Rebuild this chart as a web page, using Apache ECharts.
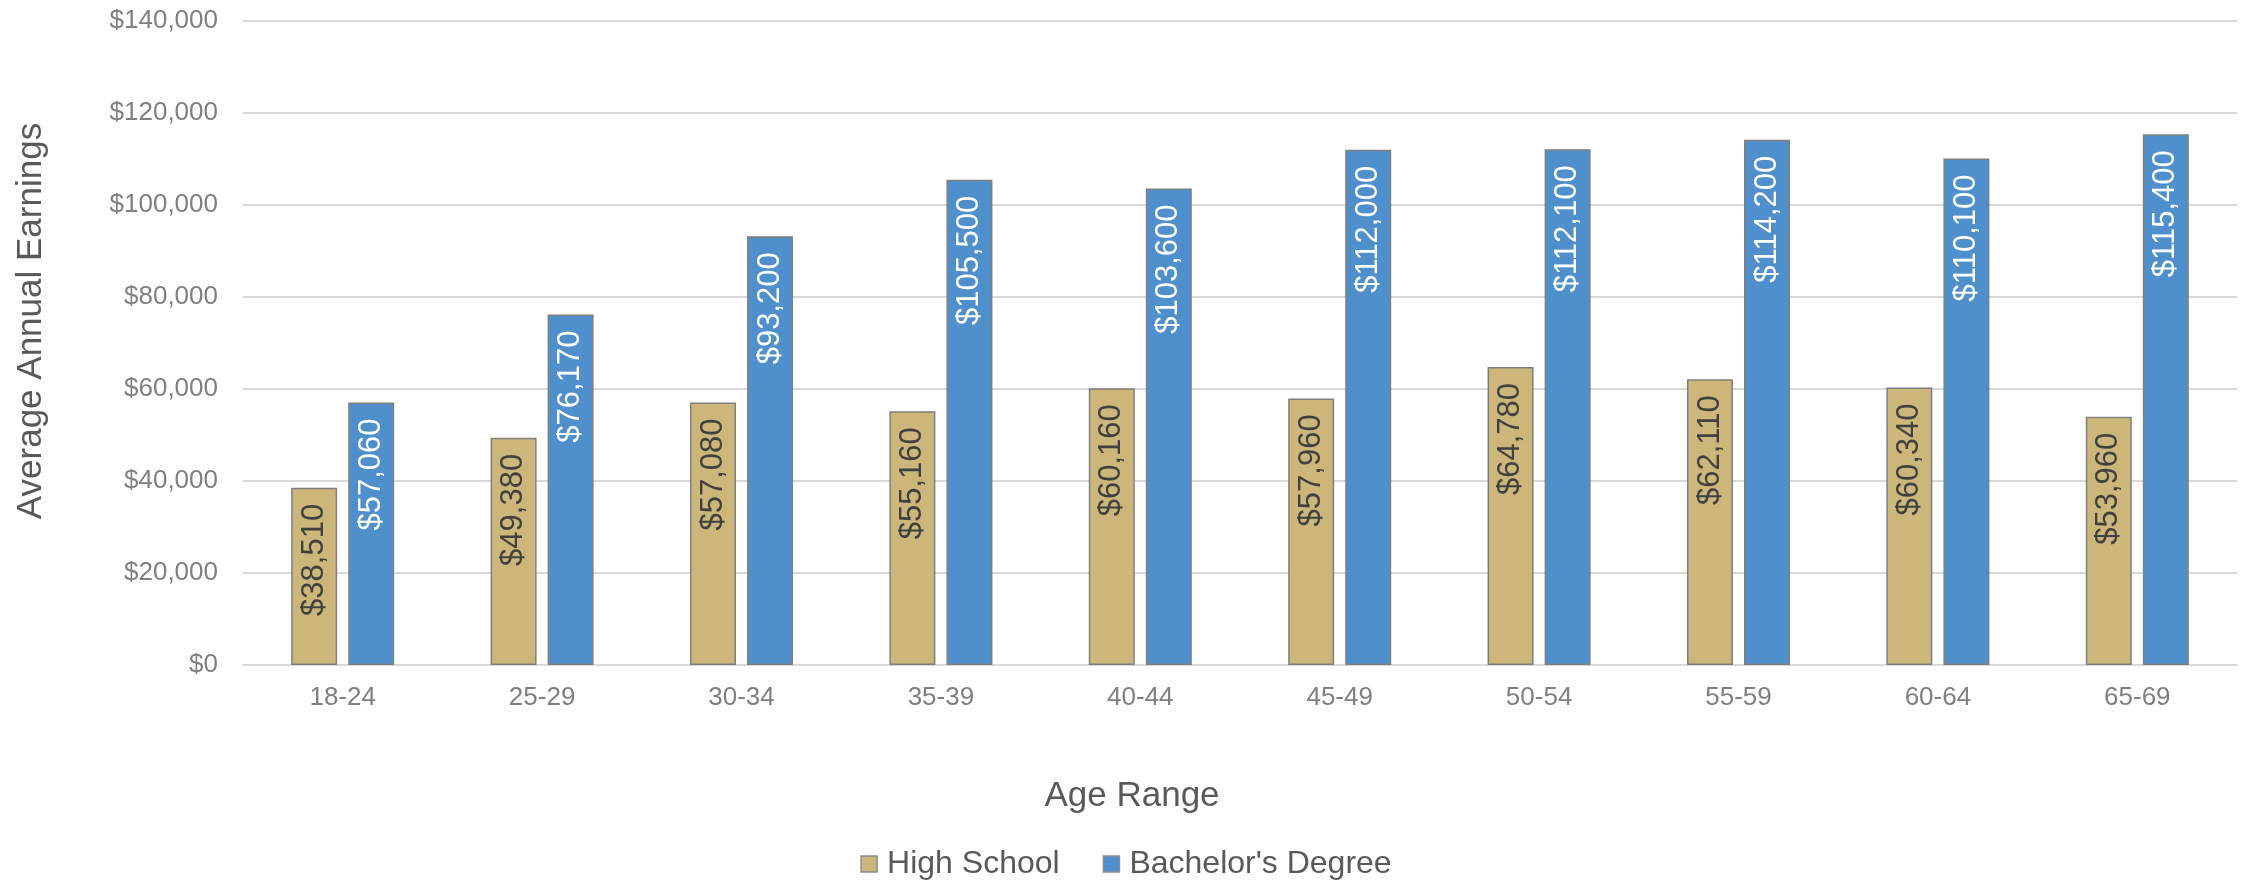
<!DOCTYPE html>
<html>
<head>
<meta charset="utf-8">
<style>
  html, body { margin: 0; padding: 0; background: #ffffff; }
  #chart { width: 2252px; height: 880px; }
</style>
<script src="https://cdn.jsdelivr.net/npm/echarts@6/dist/echarts.min.js"></script>
</head>
<body>
<div id="chart"></div>
<script>
// Average annual earnings by age range and education level
const ageRanges = ['18-24', '25-29', '30-34', '35-39', '40-44', '45-49', '50-54', '55-59', '60-64', '65-69'];
const highSchool = [38510, 49380, 57080, 55160, 60160, 57960, 64780, 62110, 60340, 53960];
const bachelors = [57060, 76170, 93200, 105500, 103600, 112000, 112100, 114200, 110100, 115400];
const seriesNames = ['High School', "Bachelor's Degree"];
const yMin = 0, yMax = 140000, yStep = 20000;

const FONT = '"Liberation Sans", Arial, Helvetica, sans-serif';
const money = v => '$' + Math.round(v).toLocaleString('en-US');

const chart = echarts.init(document.getElementById('chart'), null, { renderer: 'canvas' });

function barLabel(color) {
  return {
    show: true,
    position: 'insideTop',
    rotate: 90,
    align: 'right',
    verticalAlign: 'middle',
    distance: 16,
    color: color,
    fontFamily: FONT,
    fontSize: 31,
    formatter: p => money(p.value)
  };
}

chart.setOption({
  animation: false,
  backgroundColor: '#ffffff',
  textStyle: { fontFamily: FONT },
  grid: { left: 243, right: 15, top: 21, bottom: 215, containLabel: false },
  legend: {
    data: seriesNames,
    left: 'center',
    top: 843,
    itemWidth: 16,
    itemHeight: 16,
    itemGap: 43,
    icon: 'rect',
    itemStyle: { borderColor: '#8c8c8c', borderWidth: 1.5 },
    textStyle: { color: '#595959', fontSize: 32, fontFamily: FONT, padding: [0, 0, 0, 5] }
  },
  xAxis: {
    type: 'category',
    data: ageRanges,
    axisLine: { show: true, lineStyle: { color: '#d9d9d9', width: 2 } },
    axisTick: { show: false },
    axisLabel: { color: '#7f7f7f', fontSize: 26, fontFamily: FONT, margin: 20 }
  },
  yAxis: {
    type: 'value',
    min: yMin,
    max: yMax,
    interval: yStep,
    axisLine: { show: false },
    axisTick: { show: false },
    splitLine: { lineStyle: { color: '#d9d9d9', width: 2 } },
    axisLabel: { color: '#7f7f7f', fontSize: 26, fontFamily: FONT, margin: 25, formatter: money }
  },
  graphic: [
    {
      type: 'text',
      x: 1132, y: 796,
      style: {
        text: 'Age Range', fill: '#595959', fontSize: 35, fontFamily: FONT,
        align: 'center', verticalAlign: 'middle'
      }
    },
    {
      type: 'text',
      x: 31, y: 321,
      rotation: Math.PI / 2,
      style: {
        text: 'Average Annual Earnings', fill: '#595959', fontSize: 35, fontFamily: FONT,
        align: 'center', verticalAlign: 'middle'
      }
    }
  ],
  series: [
    {
      name: seriesNames[0],
      type: 'bar',
      data: highSchool,
      barWidth: 46,
      barGap: '24%',
      itemStyle: { color: '#cdb67a', borderColor: '#7f7f7f', borderWidth: 1.5 },
      label: barLabel('#404040')
    },
    {
      name: seriesNames[1],
      type: 'bar',
      data: bachelors,
      barWidth: 46,
      barGap: '24%',
      itemStyle: { color: '#4f90cc', borderColor: '#7f7f7f', borderWidth: 1.5 },
      label: barLabel('#ffffff')
    }
  ]
});
</script>
</body>
</html>
